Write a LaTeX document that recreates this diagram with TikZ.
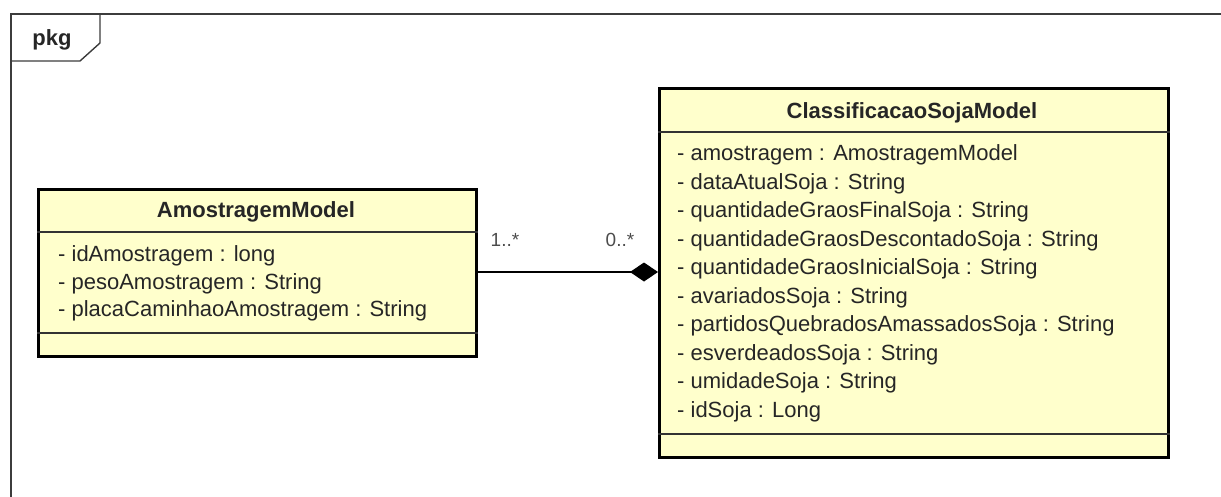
\documentclass[tikz,border=0pt]{standalone}
\usepackage{fontspec}
\setmainfont{Liberation Sans}
\usetikzlibrary{arrows.meta}
\definecolor{classfill}{HTML}{FFFFCC}
\definecolor{txt}{HTML}{262626}
\definecolor{framec}{HTML}{3C3C3C}
\tikzset{
  classbox/.style={draw=black, line width=3pt, fill=classfill, inner sep=0pt, anchor=north west},
  sepline/.style={draw=black!80, line width=1.3pt},
  classtitle/.style={font=\fontsize{22}{26}\selectfont\bfseries, text=txt, inner sep=0pt},
  attr/.style={font=\fontsize{22}{26}\selectfont, text=txt, inner sep=0pt, anchor=mid west},
  mult/.style={font=\fontsize{19}{22}\selectfont, text=black!70, inner sep=0pt},
  framel/.style={draw=framec, line width=1.4pt},
  compos/.style={draw=black, line width=1.5pt, -{Diamond[length=28pt,width=19pt]}}
}
\begin{document}
\begin{tikzpicture}[x=1pt,y=-1pt]
\useasboundingbox (0,0) rectangle (1221,496);
% package frame
\coordinate (fTL) at (11,14);
\coordinate (fBL) at (11,500);
\coordinate (fTR) at (1225,14);
\draw[framel] (fBL) -- (fTL) -- (fTR);
\coordinate (t1) at (100,14);
\coordinate (t2) at (100,43);
\coordinate (t3) at (80,61);
\coordinate (t4) at (11,61);
\draw[framel] (t1) -- (t2) -- (t3) -- (t4);
\node[font=\fontsize{22}{26}\selectfont\bfseries, text=txt, inner sep=0pt] (pkg) at (52,40) {pkg};

% AmostragemModel
\node[classbox, minimum width=438pt, minimum height=167pt] (A) at (37,188) {};
\coordinate (A1) at (37,232);
\coordinate (A2) at (37,333);
\draw[sepline] (A1) -- (A1 -| A.east);
\draw[sepline] (A2) -- (A2 -| A.east);
\node[classtitle] (At) at (256,212) {AmostragemModel};
\node[attr] (Aa1) at (58,259) {- idAmostragem : long};
\node[attr] (Aa2) at (58,287) {- pesoAmostragem : String};
\node[attr] (Aa3) at (58,314) {- placaCaminhaoAmostragem : String};

% ClassificacaoSojaModel
\node[classbox, minimum width=509pt, minimum height=369pt] (C) at (658,87) {};
\coordinate (C1) at (658,132);
\coordinate (C2) at (658,434);
\draw[sepline] (C1) -- (C1 -| C.east);
\draw[sepline] (C2) -- (C2 -| C.east);
\node[classtitle] (Ct) at (912,113) {ClassificacaoSojaModel};
\node[attr] (Ca1) at (677,158) {- amostragem : AmostragemModel};
\node[attr] (Ca2) at (677,186.5) {- dataAtualSoja : String};
\node[attr] (Ca3) at (677,215) {- quantidadeGraosFinalSoja : String};
\node[attr] (Ca4) at (677,243.5) {- quantidadeGraosDescontadoSoja : String};
\node[attr] (Ca5) at (677,272) {- quantidadeGraosInicialSoja : String};
\node[attr] (Ca6) at (677,300.5) {- avariadosSoja : String};
\node[attr] (Ca7) at (677,329) {- partidosQuebradosAmassadosSoja : String};
\node[attr] (Ca8) at (677,357.5) {- esverdeadosSoja : String};
\node[attr] (Ca9) at (677,386) {- umidadeSoja : String};
\node[attr] (Ca10) at (677,414.5) {- idSoja : Long};

% composition
\coordinate (cy) at (0,272);
\draw[compos] (A.east |- cy) -- (C.west |- cy);
\node[mult] (m1) at (505,240) {1..*};
\node[mult] (m2) at (620,240) {0..*};
\end{tikzpicture}
\end{document}
